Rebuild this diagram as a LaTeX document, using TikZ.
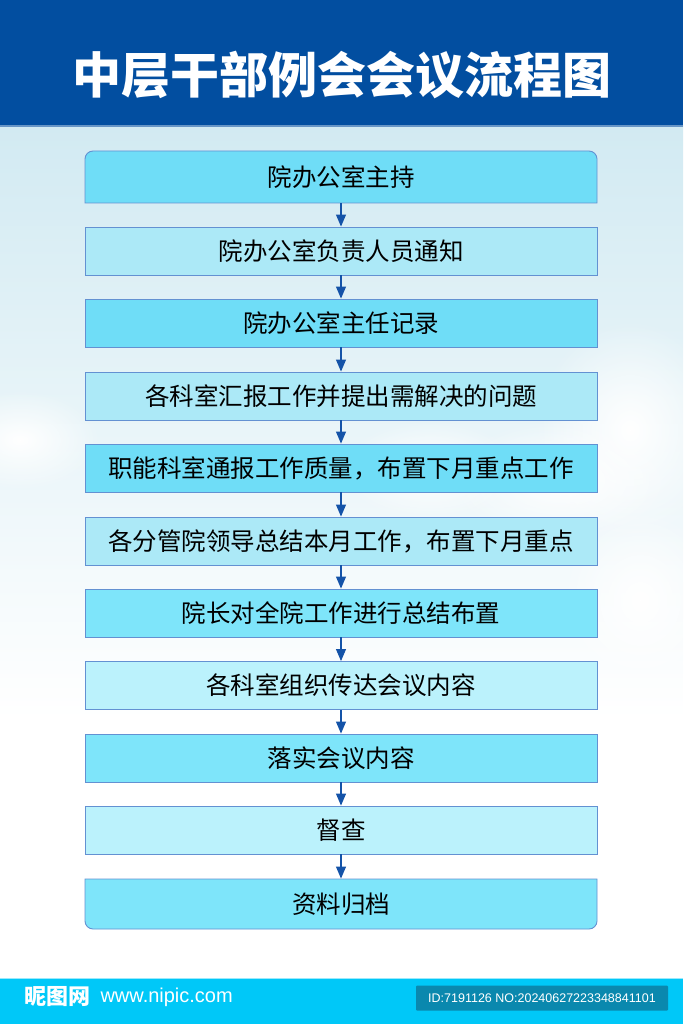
\documentclass[tikz,border=0pt]{standalone}
\usepackage{fontspec}
\setmainfont{Liberation Sans}
\newfontfamily\cjk{Noto Sans CJK SC}
\usetikzlibrary{arrows.meta,fadings}

\definecolor{titleblue}{HTML}{024EA0}
\definecolor{bgblue}{HTML}{D2EAF2}
\definecolor{boxdark}{HTML}{6FDDF7}
\definecolor{boxlight}{HTML}{ACE9F7}
\definecolor{boxdarkb}{HTML}{7EE5FA}
\definecolor{boxlightb}{HTML}{BBF2FC}
\definecolor{boxline}{HTML}{6391D2}
\definecolor{arrowblue}{HTML}{1453A8}
\definecolor{barcyan}{HTML}{00C8F8}
\definecolor{idbox}{HTML}{0A88AE}

\tikzfading[name=cloudfade, inner color=transparent!0, outer color=transparent!100]

\begin{document}
\begin{tikzpicture}[x=1pt,y=-1pt,
	stepbox/.style={draw=boxline, line width=0.9pt, minimum width=512pt, minimum height=48pt, inner sep=0pt, font=\cjk\fontsize{24.5}{25}\selectfont},
	darkbox/.style={stepbox, fill=boxdark},
	lightbox/.style={stepbox, fill=boxlight},
	endbox/.style={stepbox, draw=none},
	flow/.style={draw=arrowblue, line width=1.1pt, -{Triangle[width=10pt,length=12pt]}}]
	\useasboundingbox (0,0) rectangle (683,1024);
	% sky
	\fill [white] (0,0) rectangle (683,1024);
	\shade [top color=bgblue, bottom color=white] (0,126) rectangle (683,720);
	\fill [white, path fading=cloudfade] (630,430) ellipse (95 and 110);
	\fill [white, path fading=cloudfade] (560,480) ellipse (110 and 60);
	\fill [white, path fading=cloudfade] (20,440) ellipse (80 and 50);
	\fill [white, path fading=cloudfade] (430,470) ellipse (90 and 50);
	\fill [white, path fading=cloudfade] (640,600) ellipse (80 and 90);
	% title bar
	\fill [titleblue] (0,0) rectangle (683,126);
	\draw [line width=1.5pt, color=titleblue!60] (0,126) -- (683,126);
	\node [text=white, font=\cjk\bfseries\fontsize{49}{49}\selectfont] (title) at (342,75) {中层干部例会会议流程图};
	% boxes
	\filldraw [fill=boxdark, draw=boxline, line width=0.9pt] (85,203) -- (85,159) arc [start angle=180, end angle=270, radius=8] -- (589,151) arc [start angle=270, end angle=360, radius=8] -- (597,203) -- cycle;
	\node [endbox, minimum height=52pt] (b1) at (341,177) {院办公室主持};
	\node [lightbox] (b2) at (341,251) {院办公室负责人员通知};
	\node [darkbox] (b3) at (341,323) {院办公室主任记录};
	\node [lightbox] (b4) at (341,396) {各科室汇报工作并提出需解决的问题};
	\node [darkbox] (b5) at (341,468) {职能科室通报工作质量，布置下月重点工作};
	\node [lightbox] (b6) at (341,541) {各分管院领导总结本月工作，布置下月重点};
	\node [darkbox, fill=boxdarkb] (b7) at (341,613) {院长对全院工作进行总结布置};
	\node [lightbox, fill=boxlightb] (b8) at (341,685.5) {各科室组织传达会议内容};
	\node [darkbox, fill=boxdarkb] (b9) at (341,758) {落实会议内容};
	\node [lightbox, fill=boxlightb] (b10) at (341,830) {督查};
	\filldraw [fill=boxdarkb, draw=boxline, line width=0.9pt] (85,879) -- (597,879) -- (597,921) arc [start angle=0, end angle=90, radius=8] -- (93,929) arc [start angle=90, end angle=180, radius=8] -- cycle;
	\node [endbox, minimum height=50pt] (b11) at (341,904) {资料归档};
	% arrows
	\draw [flow] (b1) -- (b2);
	\draw [flow] (b2) -- (b3);
	\draw [flow] (b3) -- (b4);
	\draw [flow] (b4) -- (b5);
	\draw [flow] (b5) -- (b6);
	\draw [flow] (b6) -- (b7);
	\draw [flow] (b7) -- (b8);
	\draw [flow] (b8) -- (b9);
	\draw [flow] (b9) -- (b10);
	\draw [flow] (b10) -- (b11);
	% footer
	\fill [barcyan] (0,978) rectangle (683,1024);
	\draw [line width=1pt, color=barcyan!40] (0,978) -- (683,978);
	\node [text=white, font=\cjk\bfseries\fontsize{22}{22}\selectfont, anchor=west] (site) at (21,997) {昵图网};
	\node [text=white, font=\fontsize{20}{20}\selectfont, anchor=west] (url) at (97,997) {www.nipic.com};
	\node [fill=idbox, text=white, font=\fontsize{12.5}{13}\selectfont, minimum width=252pt, minimum height=25pt, inner sep=0pt, rounded corners=1pt] (id) at (542,998) {ID:7191126 NO:20240627223348841101};
\end{tikzpicture}
\end{document}
